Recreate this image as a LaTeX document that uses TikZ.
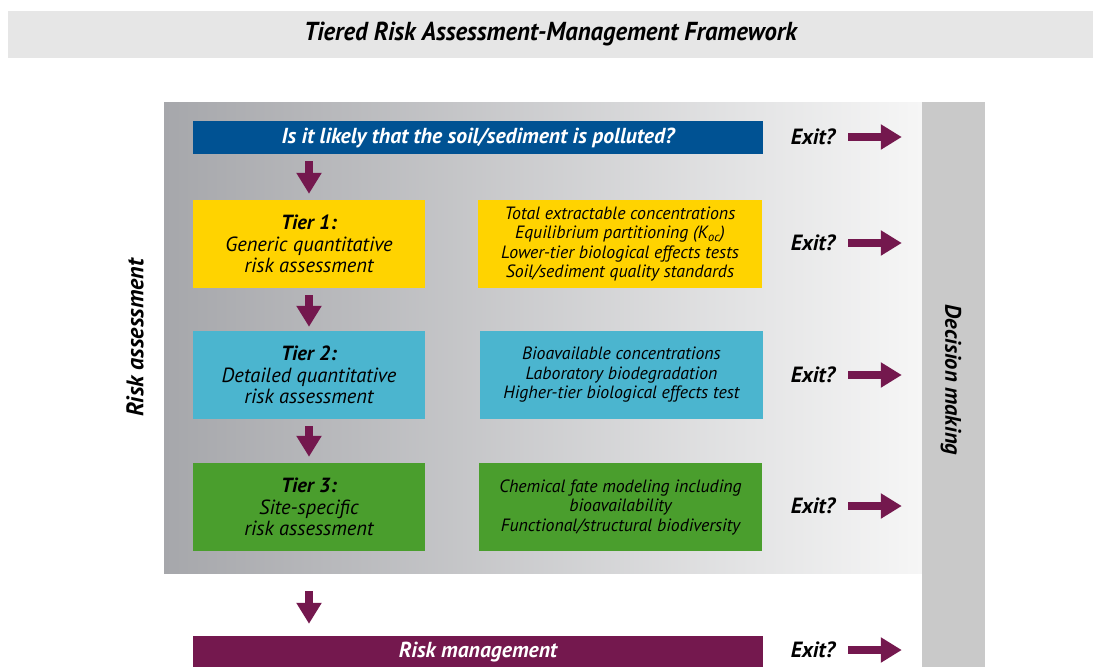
\documentclass[tikz,border=0pt]{standalone}
\usepackage{fontspec}
\setmainfont{PT Sans}
\usetikzlibrary{arrows.meta}
\definecolor{titlegray}{RGB}{230,230,230}
\definecolor{panelL}{RGB}{166,167,171}
\definecolor{panelR}{RGB}{246,246,246}
\definecolor{bandgray}{RGB}{201,201,201}
\definecolor{qblue}{RGB}{0,82,147}
\definecolor{tyellow}{RGB}{255,211,0}
\definecolor{tcyan}{RGB}{75,181,207}
\definecolor{tgreen}{RGB}{74,158,45}
\definecolor{rmpurple}{RGB}{116,24,78}
\tikzset{
  flat/.style={draw=none, inner sep=0pt, align=center},
  tierbox/.style={flat, minimum width=232pt, minimum height=88pt,
     font=\fontsize{20.5}{21.5}\selectfont\itshape},
  infobox/.style={flat, minimum width=284pt, minimum height=88pt,
     font=\fontsize{17.8}{19.5}\selectfont\itshape},
  bar/.style={flat, minimum width=570pt, text=white,
     font=\fontsize{21.7}{24}\selectfont\bfseries\itshape},
  exitlbl/.style={inner sep=0pt, font=\fontsize{22}{24}\selectfont\bfseries\itshape},
  sidelbl/.style={inner sep=0pt, font=\fontsize{24}{26}\selectfont\bfseries\itshape},
  bigarrow/.style={draw=rmpurple, line width=8.5pt,
     -{Triangle[width=24pt,length=21pt]}, rmpurple},
}
\begin{document}
\begin{tikzpicture}[x=1pt,y=-1pt]
\useasboundingbox (0,0) rectangle (1093,667);
% title
\node[flat, fill=titlegray, minimum width=1085pt, minimum height=47pt,
  font=\fontsize{26}{28}\selectfont\bfseries\itshape] (title) at (550.5,34.5)
  {\addfontfeature{FakeStretch=0.95}Tiered Risk Assessment-Management Framework};
% background panel and band
\node[flat, left color=panelL, right color=panelR, minimum width=758pt, minimum height=471pt] (panel) at (543,337.5) {};
\node[flat, fill=bandgray, minimum width=63pt, minimum height=565pt] (band) at (953.5,384.5) {};
% side labels
\node[sidelbl, rotate=90] (ra) at (135,338) {Risk assessment};
\node[sidelbl, rotate=-90, font=\fontsize{22.5}{24}\selectfont\bfseries\itshape] (dm) at (951,380) {Decision making};
% question bar
\node[bar, fill=qblue, minimum height=33pt] (q) at (478,137.5) {Is it likely that the soil/sediment is polluted?};
% tiers
\node[tierbox, fill=tyellow] (t1) at (309,244) {\textbf{Tier 1:}\\Generic quantitative\\risk assessment};
\node[infobox, fill=tyellow] (t1r) at (620,244) {Total extractable concentrations\\Equilibrium partitioning (K\textsubscript{oc})\\Lower-tier biological effects tests\\Soil/sediment quality standards};
\node[tierbox, fill=tcyan] (t2) at (309,375) {\textbf{Tier 2:}\\Detailed quantitative\\risk assessment};
\node[infobox, fill=tcyan, minimum width=283pt] (t2r) at (621.5,375) {Bioavailable concentrations\\Laboratory biodegradation\\Higher-tier biological effects test};
\node[tierbox, fill=tgreen] (t3) at (309,507) {\textbf{Tier 3:}\\Site-specific\\risk assessment};
\node[infobox, fill=tgreen, minimum width=283pt] (t3r) at (620.5,507) {Chemical fate modeling including\\bioavailability\\Functional/structural biodiversity};
% risk management
\node[bar, fill=rmpurple, minimum height=32pt] (rm) at (478,652) {Risk management};
% exit labels
\node[exitlbl] (e0) at (813,137) {Exit?};
\node[exitlbl] (e1) at (813,243) {Exit?};
\node[exitlbl] (e2) at (813,375) {Exit?};
\node[exitlbl] (e3) at (813,506) {Exit?};
\node[exitlbl] (e4) at (813,650) {Exit?};
% down arrows
\draw[bigarrow, shorten <=7pt, shorten >=6pt] (t1.north |- q.south) -- (t1.north);
\draw[bigarrow, shorten <=7pt, shorten >=4pt] (t1.south) -- (t2.north);
\draw[bigarrow, shorten <=7pt, shorten >=6pt] (t2.south) -- (t3.north);
\draw[bigarrow, shorten <=40pt, shorten >=12pt] (t3.south) -- (t3.south |- rm.north);
% exit arrows
\foreach \e in {e0,e1,e2,e3,e4}{
  \draw[bigarrow, shorten <=13pt, shorten >=20pt] (\e.east) -- (\e.east -| band.west);
}
\end{tikzpicture}
\end{document}
